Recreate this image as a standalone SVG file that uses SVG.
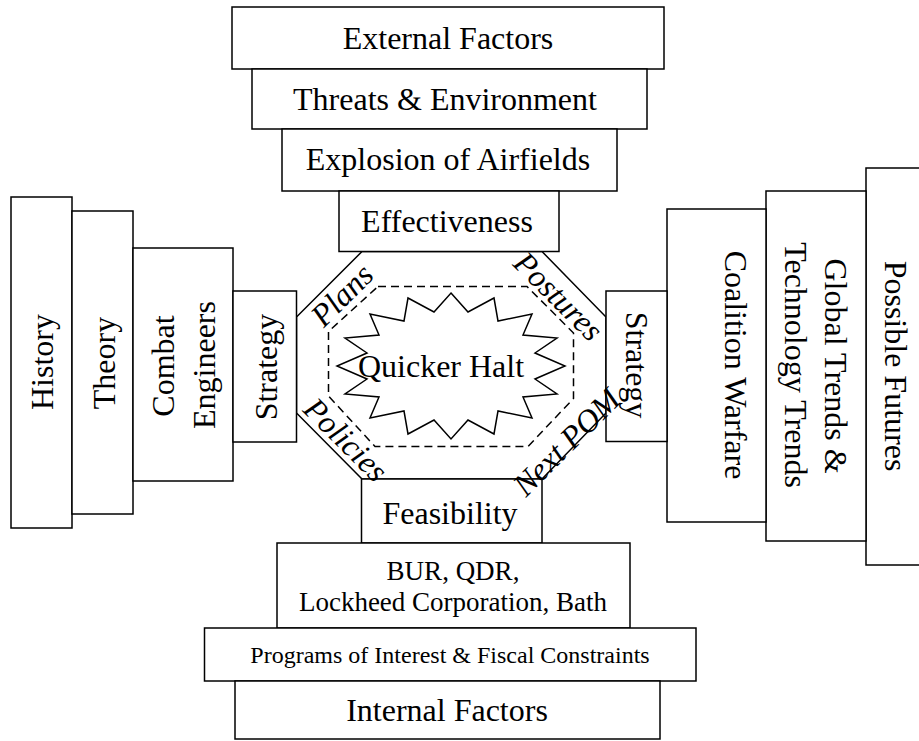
<svg xmlns="http://www.w3.org/2000/svg" width="919" height="741" viewBox="0 0 919 741">
<style>
.b{fill:#fff;stroke:#000;stroke-width:1.5}
.t{font-family:"Liberation Serif","Times New Roman",serif;font-size:32px;fill:#000;text-anchor:middle}
.s{font-size:27px}
.p{font-size:24px}
.i{font-style:italic}
.d{fill:none;stroke:#000;stroke-width:1.5;stroke-dasharray:8,5}
.l{fill:none;stroke:#000;stroke-width:1.5}
</style>
<rect width="919" height="741" fill="#fff"/>
<g id="hub">
<polygon class="l" points="362,251.5 542,251.5 606,317 606,413 542,479 362,479 296.5,413 296.5,317"/>
<polygon class="d" points="378,286.5 527,286.5 573.5,333 573.5,398.5 528,446.5 375,446.5 328.5,396 328.5,331.5"/>
</g>
<g id="quicker-halt">
<polygon class="l" fill="#fff" points="451,293 468,312 494,298 498,321 532,314 523,335 557,338 535,353 565,366 535,379 557,394 523,397 532,418 498,411 494,434 468,420 451,439 434,420 408,434 404,411 370,418 379,397 345,394 367,379 337,366 367,353 345,338 379,335 370,314 404,321 408,298 434,312"/>
<text class="t" x="441" y="377">Quicker Halt</text>
</g>
<g id="external-factors"><rect class="b" x="232" y="7" width="432" height="62"/><text class="t" x="448" y="49">External Factors</text></g>
<g id="threats"><rect class="b" x="252" y="69" width="395" height="60"/><text class="t" x="445" y="110">Threats &amp; Environment</text></g>
<g id="explosion"><rect class="b" x="282" y="129" width="335" height="62"/><text class="t" x="448" y="170">Explosion of Airfields</text></g>
<g id="effectiveness"><rect class="b" x="339" y="191" width="220" height="60.5"/><text class="t" x="447" y="232">Effectiveness</text></g>
<g id="history"><rect class="b" x="11" y="197" width="61" height="331"/><text class="t" transform="translate(53,362) rotate(-90)">History</text></g>
<g id="theory"><rect class="b" x="72" y="211" width="61" height="303"/><text class="t" transform="translate(115,363) rotate(-90)">Theory</text></g>
<g id="combat-engineers"><rect class="b" x="133" y="248" width="100" height="233"/><text class="t" transform="translate(174,366) rotate(-90)">Combat</text><text class="t" transform="translate(215,365) rotate(-90)">Engineers</text></g>
<g id="strategy-left"><rect class="b" x="233" y="291" width="63.5" height="151"/><text class="t" transform="translate(277,367) rotate(-90)">Strategy</text></g>
<g id="possible-futures"><rect class="b" x="866" y="168" width="70" height="397"/><text class="t" transform="translate(885,366) rotate(90)">Possible Futures</text></g>
<g id="global-trends"><rect class="b" x="766" y="191" width="100" height="350"/><text class="t" transform="translate(825,366) rotate(90)">Global Trends &amp;</text><text class="t" transform="translate(785,365) rotate(90)">Technology Trends</text></g>
<g id="coalition-warfare"><rect class="b" x="667" y="209" width="99" height="313"/><text class="t" transform="translate(725,365) rotate(90)">Coalition Warfare</text></g>
<g id="strategy-right"><rect class="b" x="606" y="291" width="61" height="150.5"/><text class="t" transform="translate(626,365) rotate(90)">Strategy</text></g>
<g id="feasibility"><rect class="b" x="361.5" y="479" width="180.5" height="64"/><text class="t" x="450" y="524">Feasibility</text></g>
<g id="bur-qdr"><rect class="b" x="277" y="543" width="353" height="85"/><text class="t s" x="453" y="580">BUR, QDR,</text><text class="t s" x="453" y="611">Lockheed Corporation, Bath</text></g>
<g id="programs"><rect class="b" x="204.5" y="628" width="491.5" height="53"/><text class="t p" x="450" y="663">Programs of Interest &amp; Fiscal Constraints</text></g>
<g id="internal-factors"><rect class="b" x="235" y="681" width="425" height="58"/><text class="t" x="447" y="721">Internal Factors</text></g>
<g id="hub-labels">
<text class="t i" transform="translate(349.5,302.8) rotate(-45)">Plans</text>
<text class="t i" transform="translate(551,304) rotate(45)">Postures</text>
<text class="t i" transform="translate(338.3,447.3) rotate(45)">Policies</text>
<text class="t i" transform="translate(574,449.7) rotate(-45)">Next POM</text>
</g>
</svg>
